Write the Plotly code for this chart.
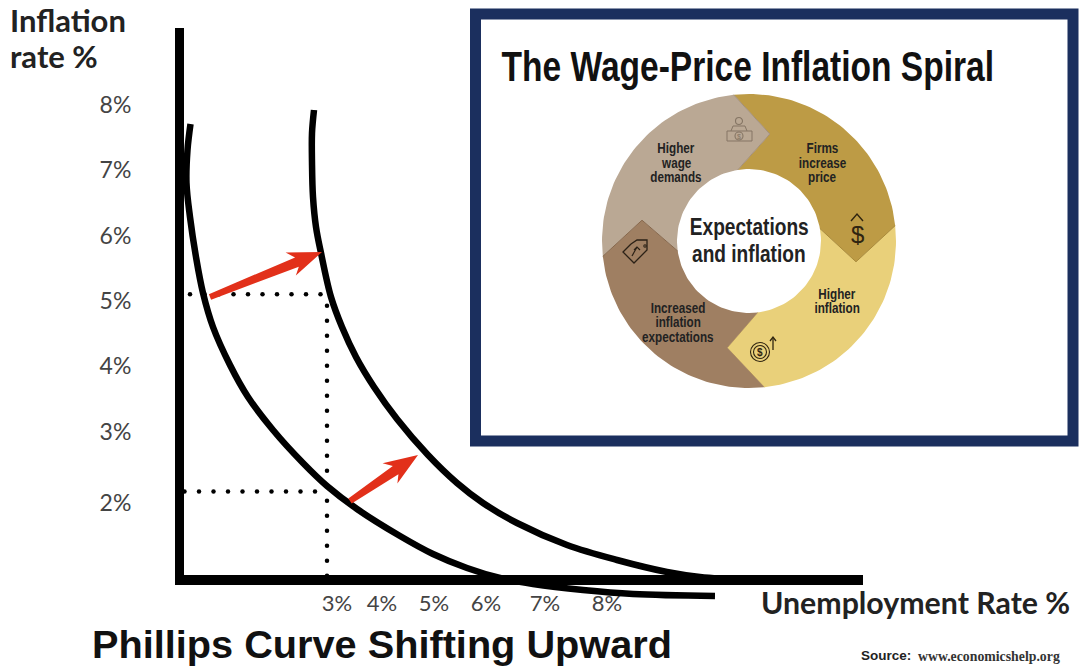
import numpy as np
import plotly.graph_objects as go

# ---- picture coordinates ----
x_tick_pos = [337, 382, 434, 486, 545, 607]
x_tick_labels = ["3%", "4%", "5%", "6%", "7%", "8%"]
y_tick_pos = [105, 170, 236, 301, 366, 432, 503]
y_tick_labels = ["8%", "7%", "6%", "5%", "4%", "3%", "2%"]

curve_a_x = [190.5, 187.5, 186.5, 190, 196, 203, 213, 230, 248, 273, 303, 327, 357, 400, 433, 467, 500, 533, 583, 633, 715]
curve_a_y = [124, 150, 183, 217, 257, 293, 327, 365, 397, 430, 463, 486, 509, 536, 554, 568, 578, 584, 590, 594, 596]
curve_b_x = [314, 312, 312, 313, 316, 321, 331, 342, 356, 374, 397, 428, 457, 483, 517, 567, 617, 667, 700, 750]
curve_b_y = [110, 133, 163, 197, 227, 253, 297, 327, 357, 387, 419, 455, 483, 503, 523, 545, 560, 572, 577, 580]

arrow_start_x = [210, 350]
arrow_start_y = [297, 501]
arrow_tip_x = [322, 418]
arrow_tip_y = [252, 455]

dot_h_y = [294.3, 491.5]
dot_h_from = [190, 184.5]
dot_h_to = [323, 317]
dot_v_x = 327
dot_v_from = 305.7
dot_v_to = 575

# wheel
wheel_cx, wheel_cy, wheel_R, wheel_r, wheel_tip_r = 749, 241, 147, 72, 109
seg_names = ["Firms increase price", "Higher inflation", "Increased inflation expectations", "Higher wage demands"]
seg_colors = ["#BD9B45", "#E9D07A", "#9F7F62", "#BAA894"]
edge_colors = ["#A98A3A", "#C9A95A", "#86684D", "#A38F7A"]
outer_deg = [-6, 84, 174, 264]
inner_deg = [-9, 80, 173, 262]
tip_deg = [11, 101, 191.5, 281]

# small pictograms on the wheel: (x list, y list, colour, width)
icon_lines = [
    ([727, 752, 752, 727, 727], [131, 131, 141, 141, 131], "#857564", 1),      # banknote
    ([731, 733, 745, 747], [131, 126, 126, 131], "#857564", 1),                 # shoulders
    ([631, 637, 647, 647, 634, 623, 631], [244, 240, 240, 250, 263, 252, 244], "#2b2116", 1.3),  # tag
    ([632, 637], [256, 247], "#2b2116", 1.2),                                   # tag arrow
    ([634, 637, 640], [250, 247, 250], "#2b2116", 1.2),
    ([851, 857, 863], [221, 214, 221], "#2f2410", 1.4),                         # dollar arrow
    ([773, 773], [350, 338], "#2f2410", 1.3),                                   # coin arrow
    ([770, 773, 776], [341, 337, 341], "#2f2410", 1.3),
]
icon_circles = [  # cx, cy, r, colour
    (739, 121, 3.5, "#857564"), (739, 136, 4, "#857564"), (645, 246, 1.2, "#2b2116"),
    (760, 352, 9.5, "#2f2410"), (760, 352, 6.5, "#2f2410"),
]

font_body = "Lato, 'Open Sans', sans-serif"
font_narrow = "'Liberation Sans Narrow', 'Liberation Sans', sans-serif"
ink = "#0b0b0b"


def polar(deg, rad):
    a = np.radians(np.asarray(deg, dtype=float))
    return wheel_cx + rad * np.sin(a), wheel_cy - rad * np.cos(a)


fig = go.Figure()
PX = dict(xaxis="x2", yaxis="y2", showlegend=False, hoverinfo="skip")

# anchor trace for the main axes
fig.add_trace(go.Scatter(x=[], y=[], xaxis="x", yaxis="y", showlegend=False))

# Phillips curves
for cx, cy, nm in [(curve_a_x, curve_a_y, "Original curve"), (curve_b_x, curve_b_y, "Shifted curve")]:
    fig.add_trace(go.Scatter(x=cx, y=cy, mode="lines", name=nm,
                             line=dict(color="#000", width=6.5, shape="spline", smoothing=1), **PX))

# dotted guide lines
for yy, a, b in zip(dot_h_y, dot_h_from, dot_h_to):
    xs = np.arange(a, b + 1, 14.5)
    fig.add_trace(go.Scatter(x=xs, y=[yy] * len(xs), mode="markers",
                             marker=dict(color="#000", size=4.5), **PX))
ys = np.arange(dot_v_from, dot_v_to + 1, 15)
fig.add_trace(go.Scatter(x=[dot_v_x] * len(ys), y=ys, mode="markers",
                         marker=dict(color="#000", size=4.5), **PX))

# red arrows
for x0, y0, x1, y1 in zip(arrow_start_x, arrow_start_y, arrow_tip_x, arrow_tip_y):
    p0, p1 = np.array([x0, y0], float), np.array([x1, y1], float)
    u = (p1 - p0) / np.linalg.norm(p1 - p0)
    n = np.array([-u[1], u[0]])
    pts = [p0 - 3 * n, p1 - 27 * u - 5 * n, p1 - 34 * u - 13 * n, p1,
           p1 - 33 * u + 12 * n, p1 - 27 * u + 5 * n, p0 + 3 * n, p0 - 3 * n]
    pts = np.array(pts)
    fig.add_trace(go.Scatter(x=pts[:, 0], y=pts[:, 1], mode="lines", fill="toself",
                             fillcolor="#E2301A", line=dict(width=0, color="#E2301A"), **PX))

# wheel segments (painted so each chevron sits over the next segment)
order = [1, 0, 3, 2]
for i in order:
    j = (i + 1) % 4
    o_end = outer_deg[j] if j else outer_deg[j] + 360
    i_end = inner_deg[j] if j else inner_deg[j] + 360
    t_end = tip_deg[j] if j else tip_deg[j] + 360
    ox, oy = polar(np.linspace(outer_deg[i], o_end, 60), wheel_R)
    ix, iy = polar(np.linspace(i_end, inner_deg[i], 40), wheel_r)
    tx1, ty1 = polar([t_end], wheel_tip_r)
    tx0, ty0 = polar([tip_deg[i]], wheel_tip_r)
    xs = np.concatenate([ox, tx1, ix, tx0, ox[:1]])
    ys = np.concatenate([oy, ty1, iy, ty0, oy[:1]])
    fig.add_trace(go.Scatter(x=xs, y=ys, mode="lines", fill="toself", name=seg_names[i],
                             fillcolor=seg_colors[i], line=dict(width=0, color=seg_colors[i]), **PX))
    ex, ey = polar([o_end], wheel_R)
    ex2, ey2 = polar([i_end], wheel_r)
    fig.add_trace(go.Scatter(x=[ex[0], tx1[0], ex2[0]], y=[ey[0], ty1[0], ey2[0]], mode="lines",
                             line=dict(width=1, color=edge_colors[i]), **PX))

# pictograms
for lx, ly, col, w in icon_lines:
    fig.add_trace(go.Scatter(x=lx, y=ly, mode="lines", line=dict(color=col, width=w), **PX))

shapes = [dict(type="rect", xref="x2", yref="y2", x0=475.5, y0=14, x1=1073, y1=441,
               line=dict(color="#1B2F5E", width=11), fillcolor="rgba(0,0,0,0)", layer="below")]
for cx, cy, r, col in icon_circles:
    shapes.append(dict(type="circle", xref="x2", yref="y2", x0=cx - r, x1=cx + r, y0=cy - r, y1=cy + r,
                       line=dict(color=col, width=1.1), fillcolor="rgba(0,0,0,0)", layer="above"))

ann = []
def txt(x, y, s, size, color=ink, font=font_body, anchor="center", bold=False):
    ann.append(dict(x=x, y=y, xref="x2", yref="y2", text=f"<b>{s}</b>" if bold else s,
                    showarrow=False, xanchor=anchor, yanchor="middle", align=anchor,
                    font=dict(size=size, color=color, family=font)))

def lines(x, ys_, texts, size):
    for yy, s in zip(ys_, texts):
        txt(x, yy, s, size, "#222", font_narrow, "center", True)

txt(8, 20, "Inflation", 31, "#222", anchor="left", bold=True)
txt(8, 56, "rate %", 31, "#222", anchor="left", bold=True)
txt(759, 602, "Unemployment Rate %", 30.3, "#222", anchor="left", bold=True)
txt(90, 644, "Phillips Curve Shifting Upward", 39.7, "#111", "'Liberation Sans', Arial, sans-serif", "left", True)
txt(859, 655, "Source:", 13.5, "#222", "'Liberation Sans', sans-serif", "left", True)
txt(916, 656, "www.economicshelp.org", 13.8, "#333", "'Liberation Serif', serif", "left", True)
txt(748, 66, "The Wage-Price Inflation Spiral", 43, "#111", font_narrow, "center", True)
lines(749, [226.7, 253.3], ["Expectations", "and inflation"], 24.5)
lines(676, [147, 162, 176], ["Higher", "wage", "demands"], 15)
lines(822, [147, 162, 176], ["Firms", "increase", "price"], 15)
lines(837, [293, 307], ["Higher", "inflation"], 15)
lines(678, [307, 321, 336], ["Increased", "inflation", "expectations"], 15)
txt(857, 234, "$", 24, "#2f2410", "'Liberation Sans', sans-serif", "center")
txt(760, 352, "$", 10, "#2f2410", "'Liberation Sans', sans-serif", "center", True)
txt(739, 136, "$", 7, "#857564", "'Liberation Sans', sans-serif", "center")

fig.update_layout(
    width=1080, height=670, margin=dict(l=0, r=0, t=0, b=0), autosize=False,
    paper_bgcolor="#fff", plot_bgcolor="rgba(0,0,0,0)", showlegend=False,
    annotations=ann, shapes=shapes,
    xaxis=dict(domain=[184 / 1080, 863 / 1080], range=[184, 863], anchor="y",
               showgrid=False, zeroline=False, showline=True, linecolor="#000", linewidth=10,
               tickmode="array", tickvals=x_tick_pos, ticktext=x_tick_labels,
               ticks="outside", ticklen=0, tickcolor="rgba(0,0,0,0)",
               tickfont=dict(family=font_body, size=22, color="#444")),
    yaxis=dict(domain=[1 - 575 / 670, 1 - 28 / 670], range=[575, 28], anchor="x",
               showgrid=False, zeroline=False, showline=True, linecolor="#000", linewidth=9,
               tickmode="array", tickvals=y_tick_pos, ticktext=y_tick_labels,
               ticks="outside", ticklen=39, tickcolor="rgba(0,0,0,0)",
               tickfont=dict(family=font_body, size=23, color="#444")),
    xaxis2=dict(domain=[0, 1], range=[0, 1080], visible=False, anchor="y2"),
    yaxis2=dict(domain=[0, 1], range=[670, 0], visible=False, anchor="x2"),
)

post = """
document.body.style.margin='0';document.body.style.overflow='hidden';
document.querySelectorAll('.annotation-text').forEach(function(t){
  if ((t.style.fontFamily||'').indexOf('Narrow')>=0){
    t.style.transformBox='fill-box';t.style.transformOrigin='center';t.style.transform='scaleX(0.78)';
  }
});
"""
fig.write_html("out.html", post_script=post, config={"displayModeBar": False})
